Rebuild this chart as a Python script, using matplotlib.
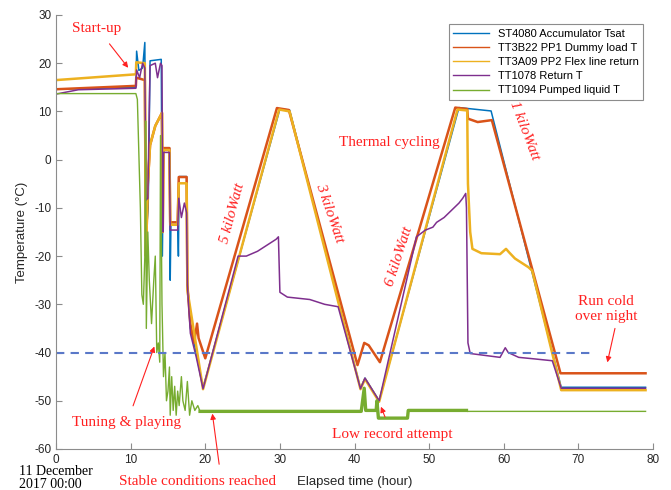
import numpy as np
import matplotlib.pyplot as plt

# Temperatures (deg C), time in hours
blue_t = [0, 10.7, 10.8, 11.1, 11.6, 11.9, 12.05, 12.35, 12.6, 14.1, 14.25, 14.4, 15.2, 15.3, 15.4, 16.3, 16.4, 16.5,
          17.5, 17.6, 18.0, 18.5, 19.7, 30.0, 31.3, 40.8, 41.4, 43.3, 54.0, 58.3, 67.7, 79.0]
blue_T = [14.6, 15.0, 22.5, 18.5, 19.0, 24.3, -16, -10, 20.5, 20.8, -20, 2.4, 2.4, -25, -13, -13, -20, -3.5,
          -3.5, -25, -35, -38, -47.3, 10.5, 10.3, -47.4, -45.3, -50.0, 10.8, 10.1, -47.2, -47.2]

red_t = [0, 10.7, 10.75, 11.9, 12.05, 12.3, 12.6, 13.3, 14.2, 14.3, 14.4, 15.2, 15.3, 16.3, 16.45, 17.5, 17.6, 18.0,
         18.5, 18.9, 19.1, 20.0, 29.6, 31.2, 40.4, 41.3, 41.9, 43.4, 53.5, 55.1, 55.2, 56.5, 58.4, 67.6, 79.0]
red_T = [14.6, 15.3, 17.0, 16.5, -20, -5, 3, 7, 9.7, -15, 2.4, 2.4, -13, -13, -3.6, -3.6, -26, -34,
         -38, -34, -37, -41.2, 10.7, 10.3, -42.6, -38, -38.5, -42, 10.8, 10.5, 8.5, 7.8, 8.2, -44.3, -44.3]

yellow_t = [0, 10.7, 10.75, 11.9, 12.05, 12.3, 12.6, 13.3, 14.2, 14.3, 14.4, 15.2, 15.3, 16.3, 16.45, 17.5, 17.6,
            19.7, 29.9, 31.3, 40.8, 41.4, 43.3, 53.8, 55.1, 55.2, 55.5, 55.8, 57.0, 59.5, 60.3, 60.7, 61.5, 63.3,
            63.8, 67.7, 79.0]
yellow_T = [16.5, 17.7, 20.2, 20.0, -20, -5, 3, 7, 9.7, -15, 2.0, 2.0, -13.5, -13.5, -4.9, -4.9, -27,
            -47.6, 10.4, 10.0, -47.6, -45.5, -50.2, 10.4, 10.2, -5, -15, -18.5, -19.4, -19.6, -18.5, -19.2, -20.5, -22.3,
            -23.0, -47.8, -47.8]

purple_t = [0, 3, 10.7, 10.8, 11.2, 11.6, 11.9, 12.05, 12.3, 12.6, 13.3, 13.6, 14.0, 14.2, 14.3, 14.4, 15.2, 15.3,
            16.3, 16.45, 16.8, 17.2, 17.5, 17.6, 18.0, 18.8, 19.7, 24.4, 25.5, 27.0, 29.5, 29.8, 30.0, 31.0, 34.0,
            36.0, 37.8, 40.8, 41.4, 43.3, 48.3, 49.5, 50.5, 51.0, 52.0, 53.0, 54.0, 54.5, 54.9, 55.0, 55.2, 55.5,
            57.0, 59.5, 60.2, 60.6, 62.0, 64.0, 66.5, 67.7, 79.0]
purple_T = [13.6, 14.5, 14.8, 18.6, 17, 20, 19, -8.4, -8, 19.5, 20, 17, 20, 19.5, -15, 1.5, 1.5, -14.6,
            -14.6, -8, -12, -9, -11, -26, -36, -41, -47.5, -20, -20, -19, -16.5, -16, -27.5, -28.5, -29,
            -30, -30.5, -47.5, -45.3, -50, -16, -14.6, -14, -13, -12, -10.5, -9, -8, -7, -10, -38, -40.2,
            -40.5, -41, -39, -40, -41, -41.3, -41.7, -47.4, -47.4]

green_t = [0, 10.7, 10.9, 11.3, 11.5, 11.7, 11.9, 12.0, 12.1, 12.3, 12.5, 12.8, 13.1, 13.3, 13.5, 13.7, 13.9, 14.0,
           14.2, 14.4, 14.6, 14.8, 15.0, 15.2, 15.3, 15.5, 15.7, 15.9, 16.1, 16.3, 16.5, 16.8, 17.0, 17.3, 17.6,
           17.9, 18.2, 18.6, 19.0, 19.3, 40.9, 41.3, 41.5, 42.9, 43.0, 43.2, 47.1, 47.2, 55.0, 55.1, 79.0]
green_T = [13.7, 13.7, 12.5, -10, -28, -30, -20, 8, -35, -15, -25, -34, -25, -20, -40, -38, -42, 5,
           -30, -45, -40, -50, -48, -43, -53, -45, -52, -47, -53, -48, -51, -45, -50, -52, -46,
           -53, -50, -52, -51, -52.2, -52.2, -47.4, -52, -52, -50, -53.6, -53.6, -52.0, -52.0, -52.2, -52.2]

series = [
    (blue_t, blue_T, '#0072BD', 1.1, 'ST4080 Accumulator Tsat'),
    (red_t, red_T, '#D95319', 1.8, 'TT3B22 PP1 Dummy load T'),
    (yellow_t, yellow_T, '#EDB120', 1.8, 'TT3A09 PP2 Flex line return'),
    (purple_t, purple_T, '#7E2F8E', 1.1, 'TT1078 Return T'),
    (green_t, green_T, '#77AC30', 1.0, 'TT1094 Pumped liquid T'),
]

plt.rcParams['font.family'] = ['Liberation Sans', 'DejaVu Sans']
plt.rcParams['axes.unicode_minus'] = False

fig = plt.figure(figsize=(6.71, 4.90), dpi=100)
ax = fig.add_axes([0.0835, 0.0837, 0.8897, 0.8857])

for t, T, c, lw, lab in series:
    ax.plot(t, T, color=c, lw=lw, label=lab)

# noisy stretch of the pumped liquid reading
gt = np.array(green_t)
gT = np.array(green_T)
m = (gt >= 19.3) & (gt <= 55.0)
ax.plot(gt[m], gT[m], color='#77AC30', lw=2.4)

# -40 reference line
ax.plot([0, 71.6], [-40, -40], color='#5a78c8', lw=1.5, ls=(0, (4, 3)))

ax.set_xlim(0, 80)
ax.set_ylim(-60, 30)
ax.set_xticks(np.arange(0, 81, 10))
ax.set_yticks(np.arange(-60, 31, 10))
ax.tick_params(direction='in', length=4, labelsize=8.5, color='#8c8c8c', labelcolor='#262626')
for s in ['top', 'right']:
    ax.spines[s].set_visible(False)
for s in ['left', 'bottom']:
    ax.spines[s].set_color('#8c8c8c')

ax.set_ylabel('Temperature (°C)', fontsize=9.5, color='#262626', labelpad=4)
ax.set_xlabel('Elapsed time (hour)', fontsize=9.5, color='#262626', labelpad=7)

leg = ax.legend(loc='upper right', bbox_to_anchor=(0.983, 0.979), fontsize=8, fancybox=False,
                edgecolor='#8c8c8c', framealpha=1, borderaxespad=0, handlelength=3.2, labelspacing=0.38)
leg.get_frame().set_linewidth(0.8)
for h in leg.get_lines():
    h.set_linewidth(1.0)

# annotations
red = '#ff2020'
serif = ['Liberation Serif', 'DejaVu Serif']
arw = dict(arrowstyle='-|>', color=red, lw=0.8, mutation_scale=8)
ax.annotate('Start-up', xy=(9.9, 18.6), xytext=(5.5, 27.3), color=red, fontsize=11, family=serif,
            ha='center', va='center', arrowprops=dict(arw, shrinkA=6))
ax.text(44.6, 3.5, 'Thermal cycling', color=red, fontsize=11, family=serif, ha='center', va='center')
ax.text(23.6, -11.1, '5 kiloWatt', color=red, fontsize=11, family=serif, style='italic', ha='center',
        va='center', rotation=75)
ax.text(36.6, -11.1, '3 kiloWatt', color=red, fontsize=11, family=serif, style='italic', ha='center',
        va='center', rotation=-71)
ax.text(46.0, -20.0, '6 kiloWatt', color=red, fontsize=11, family=serif, style='italic', ha='center',
        va='center', rotation=72)
ax.text(62.7, 6.0, '1 kiloWatt', color=red, fontsize=11, family=serif, style='italic', ha='center',
        va='center', rotation=-69)
ax.text(73.7, -31, 'Run cold\nover night', color=red, fontsize=11, family=serif, ha='center', va='center',
        linespacing=1.25)
ax.annotate('', xy=(73.8, -42.6), xytext=(74.9, -35.0), arrowprops=dict(arw, shrinkA=0))
ax.annotate('Tuning & playing', xy=(13.3, -38.2), xytext=(9.5, -54.6), color=red, fontsize=11,
            family=serif, ha='center', va='center', arrowprops=dict(arw, shrinkA=6))
ax.annotate('Low record attempt', xy=(43.4, -50.7), xytext=(45.0, -56.9), color=red, fontsize=11,
            family=serif, ha='center', va='center', arrowprops=dict(arw, shrinkA=6))
ax.annotate('Stable conditions reached', xy=(20.9, -52.1), xytext=(18.9, -66.8), color=red, fontsize=11,
            family=serif, ha='center', va='center', annotation_clip=False,
            arrowprops=dict(arw, shrinkA=6, relpos=(0.65, 1.0)))

fig.text(19 / 671, 1 - 471 / 490, '11 December', fontsize=10, family=serif, color='black', va='center')
fig.text(19 / 671, 1 - 484 / 490, '2017 00:00', fontsize=10, family=serif, color='black', va='center')

fig.savefig('out.png', dpi=100)
